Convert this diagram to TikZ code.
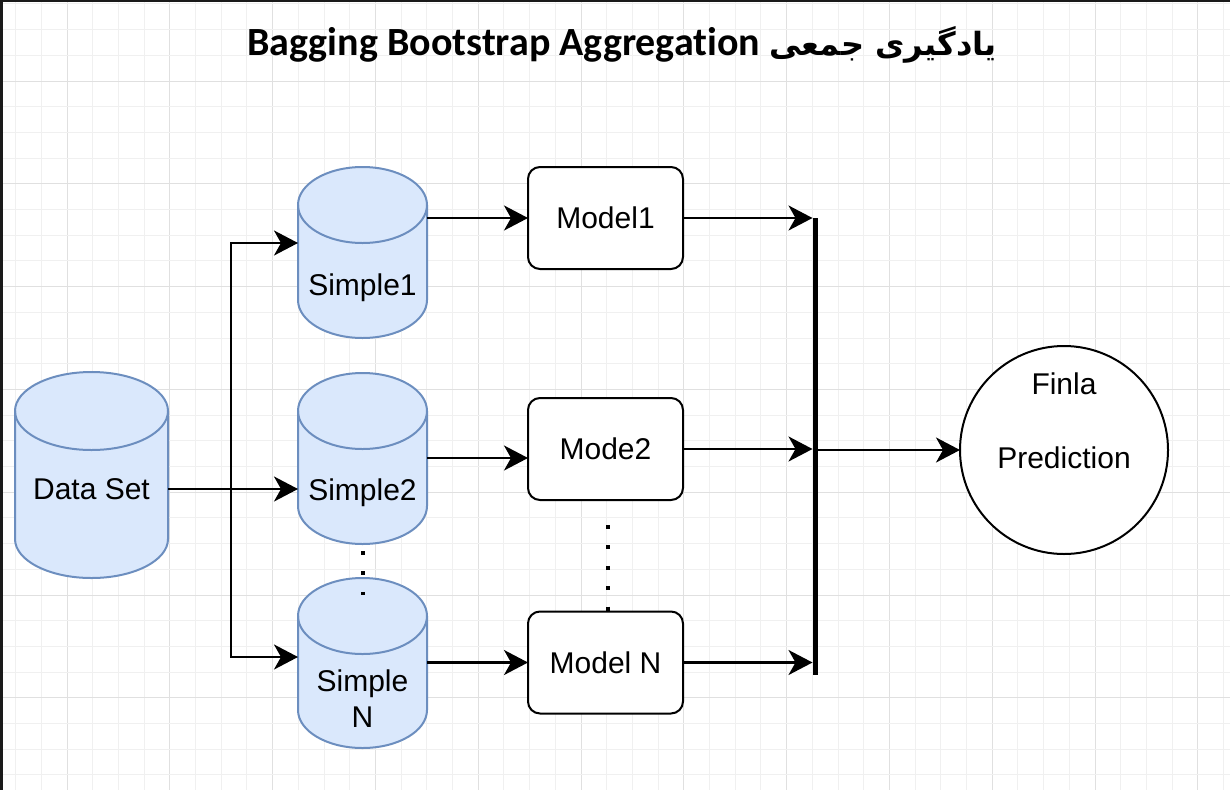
\documentclass[tikz,border=0pt]{standalone}
\usepackage{fontspec}
\setmainfont{Liberation Sans}
\newfontfamily\titlefont[Ligatures=NoCommon]{Carlito}
\newfontfamily\fafont[Script=Arabic]{DejaVu Sans}
\TeXXeTstate=1
\usetikzlibrary{arrows.meta,backgrounds,calc}

\definecolor{drumfill}{HTML}{DAE8FC}
\definecolor{drumline}{HTML}{6C8EBF}
\definecolor{gridminor}{HTML}{F0F0F0}
\definecolor{gridmajor}{HTML}{E0E0E0}
\definecolor{framecol}{HTML}{1A1A1A}

\tikzset{
  x=1pt, y=1pt,
  every node/.style={font=\fontsize{30}{36}\selectfont},
  drumnode/.style={rectangle, inner sep=0pt, outer sep=0pt},
  drumstroke/.style={draw=drumline, line width=2pt},
  drumlabel/.style={align=center, font=\fontsize{30}{36}\selectfont},
  modelbox/.style={draw, line width=2pt, rounded corners=12pt, fill=white,
    minimum width=155pt, minimum height=102pt, inner sep=0pt, outer sep=0pt},
  outcircle/.style={circle, draw, line width=2pt, fill=white,
    minimum size=208pt, inner sep=0pt, outer sep=0pt},
  conn/.style={line width=2.2pt, -{Stealth[length=24pt,width=25pt,inset=7pt]}},
  plain/.style={line width=2.2pt},
  dots/.style={line width=4pt, dash pattern=on 4pt off 16.4pt},
  minorline/.style={draw=gridminor, line width=1pt},
  majorline/.style={draw=gridmajor, line width=1pt},
}

% cylinder outline behind a named node: node, x radius, y radius
\newcommand\drumshape[3]{%
  \begin{pgfonlayer}{background}
    \filldraw[drumstroke, fill=drumfill]
      ([yshift=-#3pt]#1.north west) -- ([yshift=#3pt]#1.south west)
      arc[start angle=180, end angle=360, x radius=#2pt, y radius=#3pt]
      -- ([yshift=-#3pt]#1.north east)
      arc[start angle=0, end angle=180, x radius=#2pt, y radius=#3pt] -- cycle;
    \draw[drumstroke] ([yshift=-#3pt]#1.north west)
      arc[start angle=180, end angle=360, x radius=#2pt, y radius=#3pt];
  \end{pgfonlayer}}

\begin{document}
\begin{tikzpicture}
\useasboundingbox (0,0) rectangle (1230,-790);

% page and grid
\begin{pgfonlayer}{background}
  \fill[white] (0,0) rectangle (1230,-790);
  \foreach \i in {-2,...,45} {
    \pgfmathtruncatemacro\m{mod(\i+400,4)}
    \ifnum\m=0
      \draw[majorline] ({67+25.7*\i},0) -- ({67+25.7*\i},-790);
    \else
      \draw[minorline] ({67+25.7*\i},0) -- ({67+25.7*\i},-790);
    \fi
  }
  \foreach \j in {-3,...,28} {
    \pgfmathtruncatemacro\m{mod(\j+400,4)}
    \ifnum\m=0
      \draw[majorline] (0,{-81-25.7*\j}) -- (1230,{-81-25.7*\j});
    \else
      \draw[minorline] (0,{-81-25.7*\j}) -- (1230,{-81-25.7*\j});
    \fi
  }
  \draw[framecol, line width=2.6pt] (1.3,0) -- (1.3,-790);
  \draw[framecol, line width=1.6pt] (0,-0.8) -- (1230,-0.8);
\end{pgfonlayer}

% title
\node[anchor=base, inner sep=0pt] (title) at (622,-55)
  {\titlefont\bfseries\fontsize{40}{46}\selectfont Bagging Bootstrap Aggregation
   {\fafont\bfseries\fontsize{32}{38}\selectfont\beginR یادگیری جمعی\endR}};

% data stores
\node[drumnode, minimum width=153pt, minimum height=206pt,
      label={[drumlabel, yshift=-14pt]center:Data Set}] (ds) at (91.5,-475) {};
\drumshape{ds}{76.5}{39}
\node[drumnode, minimum width=129pt, minimum height=171pt,
      label={[drumlabel, yshift=-35.5pt]center:Simple1}] (s1) at (362.5,-252.5) {};
\drumshape{s1}{64.5}{38}
\node[drumnode, minimum width=129pt, minimum height=171pt,
      label={[drumlabel, yshift=-34.5pt]center:Simple2}] (s2) at (362.5,-458.5) {};
\drumshape{s2}{64.5}{38}
\node[drumnode, minimum width=129pt, minimum height=170pt,
      label={[drumlabel, yshift=-36pt]center:Simple\\N}] (sN) at (362.5,-663) {};
\drumshape{sN}{64.5}{38}

% models
\node[modelbox] (m1) at (605.5,-218) {Model1};
\node[modelbox] (m2) at (605.5,-449) {Mode2};
\node[modelbox] (mN) at (605.5,-662.5) {Model N};

% final prediction
\node[outcircle, label={[align=center, yshift=29pt]center:Finla\\[38pt]Prediction}]
  (out) at (1064,-450) {};

% helper points
\coordinate (hub) at (231,-489);
\coordinate (bartop) at (815,-218);
\coordinate (barbot) at (815,-675);
\coordinate (m2in) at ([yshift=-9pt]m2.west);

% data set fans out to the samples
\draw[plain] (ds.east |- hub) -- (hub);
\draw[conn] (hub) -- (hub -| s2.west);
\draw[conn] (hub) |- ([yshift=9.5pt]s1.west);
\draw[conn] (hub) |- ([yshift=6pt]sN.west);

% samples to models
\draw[conn] (m1.west -| s1.east) -- (m1.west);
\draw[conn] (m2in -| s2.east) -- (m2in);
\draw[conn] (mN.west -| sN.east) -- (mN.west);

% models to the aggregation bar
\draw[conn, shorten >=2.5pt] (m1.east) -- (m1.east -| bartop);
\draw[conn, shorten >=2.5pt] (m2.east) -- (m2.east -| bartop);
\draw[conn, shorten >=2.5pt] (mN.east) -- (mN.east -| bartop);
\draw[line width=5pt] (bartop) -- (barbot);
\draw[conn] (out.west -| bartop) -- (out.west);

% ellipsis dots
\draw[dots] ([yshift=-7pt]s2.south) -- ([yshift=-17pt]sN.north);
\draw[dots] ([xshift=2.5pt,yshift=-25pt]m2.south) -- ([xshift=2.5pt]mN.north);
\end{tikzpicture}
\end{document}
